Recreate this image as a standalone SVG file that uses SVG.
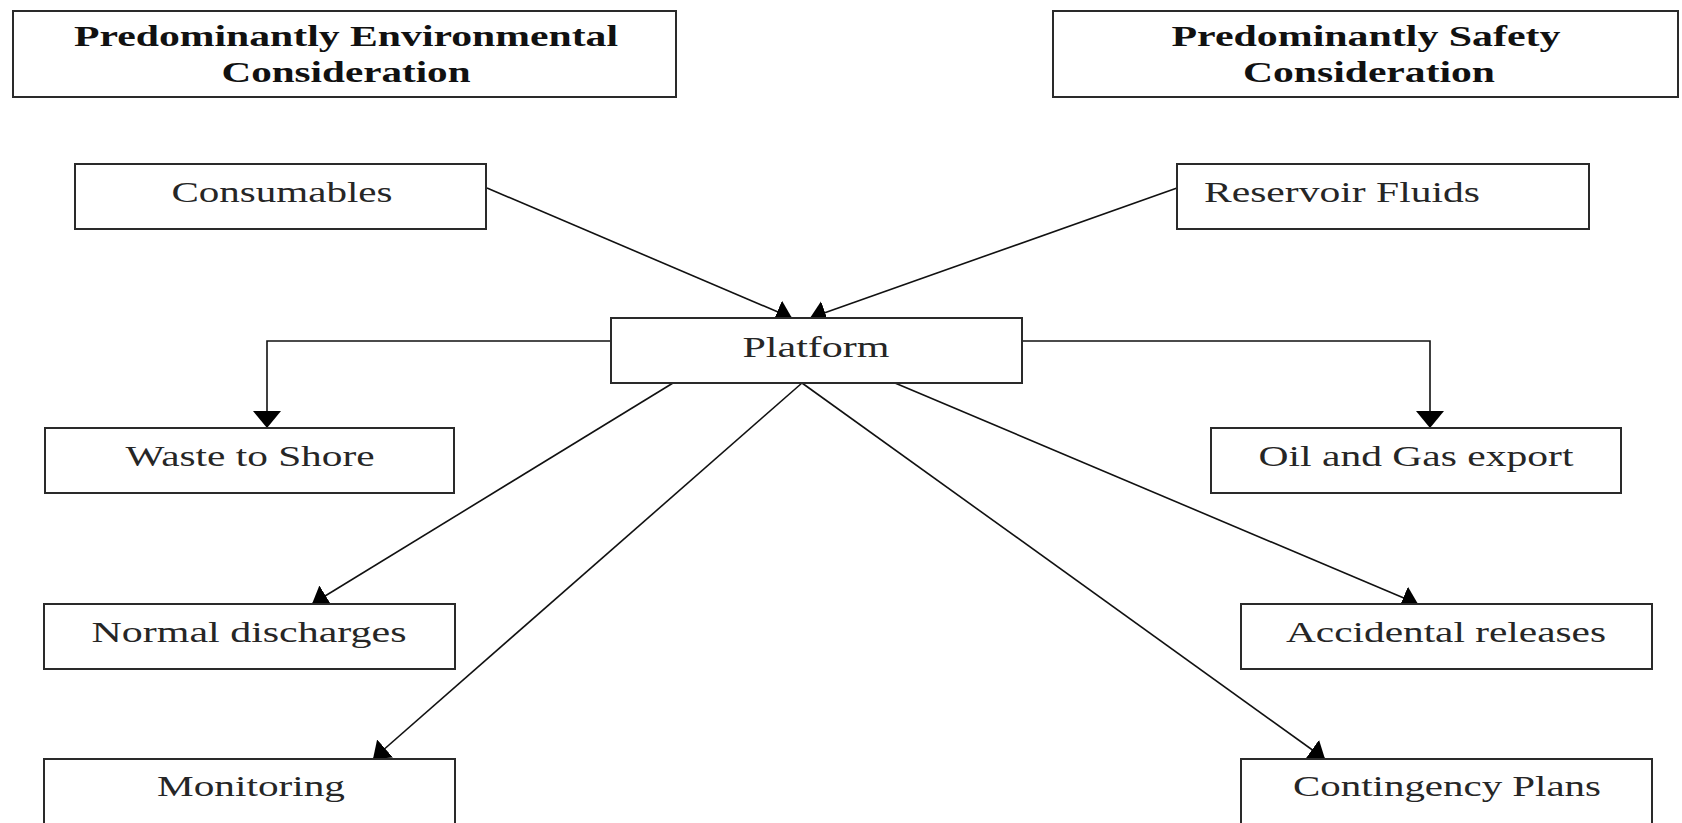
<svg xmlns="http://www.w3.org/2000/svg" width="1682" height="823" viewBox="0 0 1682 823">
<style>
.box{fill:#fff;stroke:#2a2a2a;stroke-width:2}
.t{font-family:"Liberation Serif","Times New Roman",serif;font-size:30px;fill:#262626;text-anchor:middle}
.h{font-family:"Liberation Serif","Times New Roman",serif;font-size:30px;font-weight:bold;fill:#111;text-anchor:middle}
.c{fill:none;stroke:#111;stroke-width:1.6}
</style>
<defs>
<marker id="ah" markerUnits="userSpaceOnUse" markerWidth="18" markerHeight="26" refX="16" refY="12" orient="auto">
<path d="M0,0 L16,12 L0,24 z" fill="#000"/>
</marker>
<marker id="av" markerUnits="userSpaceOnUse" markerWidth="30" markerHeight="18" refX="14" refY="17" orient="0">
<path d="M0,0 L28,0 L14,17 z" fill="#000"/>
</marker>
</defs>
<rect width="1682" height="823" fill="#fff"/>

<g id="connectors">
<line class="c" x1="487" y1="188" x2="792" y2="318" marker-end="url(#ah)"/>
<line class="c" x1="1177" y1="188" x2="810" y2="318" marker-end="url(#ah)"/>
<polyline class="c" points="611,341 267,341 267,428" marker-end="url(#av)"/>
<polyline class="c" points="1022,341 1430,341 1430,428" marker-end="url(#av)"/>
<line class="c" x1="673" y1="383" x2="312" y2="604" marker-end="url(#ah)"/>
<line class="c" x1="802" y1="383" x2="373" y2="759" marker-end="url(#ah)"/>
<line class="c" x1="802" y1="383" x2="1325" y2="759" marker-end="url(#ah)"/>
<line class="c" x1="895" y1="383" x2="1418" y2="604" marker-end="url(#ah)"/>
</g>

<g id="env-title">
<rect class="box" x="13" y="11" width="663" height="86"/>
<text class="h" x="346" y="46" textLength="544" lengthAdjust="spacingAndGlyphs">Predominantly Environmental</text>
<text class="h" x="346" y="82" textLength="249" lengthAdjust="spacingAndGlyphs">Consideration</text>
</g>
<g id="safety-title">
<rect class="box" x="1053" y="11" width="625" height="86"/>
<text class="h" x="1366" y="46" textLength="389" lengthAdjust="spacingAndGlyphs">Predominantly Safety</text>
<text class="h" x="1369" y="82" textLength="252" lengthAdjust="spacingAndGlyphs">Consideration</text>
</g>
<g id="consumables">
<rect class="box" x="75" y="164" width="411" height="65"/>
<text class="t" x="282" y="202" textLength="221" lengthAdjust="spacingAndGlyphs">Consumables</text>
</g>
<g id="reservoir">
<rect class="box" x="1177" y="164" width="412" height="65"/>
<text class="t" x="1342" y="202" textLength="276" lengthAdjust="spacingAndGlyphs">Reservoir Fluids</text>
</g>
<g id="platform">
<rect class="box" x="611" y="318" width="411" height="65"/>
<text class="t" x="816" y="357" textLength="147" lengthAdjust="spacingAndGlyphs">Platform</text>
</g>
<g id="waste">
<rect class="box" x="45" y="428" width="409" height="65"/>
<text class="t" x="250" y="466" textLength="249" lengthAdjust="spacingAndGlyphs">Waste to Shore</text>
</g>
<g id="oilgas">
<rect class="box" x="1211" y="428" width="410" height="65"/>
<text class="t" x="1416" y="466" textLength="315" lengthAdjust="spacingAndGlyphs">Oil and Gas export</text>
</g>
<g id="normal">
<rect class="box" x="44" y="604" width="411" height="65"/>
<text class="t" x="249" y="642" textLength="315" lengthAdjust="spacingAndGlyphs">Normal discharges</text>
</g>
<g id="accidental">
<rect class="box" x="1241" y="604" width="411" height="65"/>
<text class="t" x="1446" y="642" textLength="320" lengthAdjust="spacingAndGlyphs">Accidental releases</text>
</g>
<g id="monitoring">
<rect class="box" x="44" y="759" width="411" height="75"/>
<text class="t" x="251" y="796" textLength="188" lengthAdjust="spacingAndGlyphs">Monitoring</text>
</g>
<g id="contingency">
<rect class="box" x="1241" y="759" width="411" height="75"/>
<text class="t" x="1447" y="796" textLength="308" lengthAdjust="spacingAndGlyphs">Contingency Plans</text>
</g>
</svg>
